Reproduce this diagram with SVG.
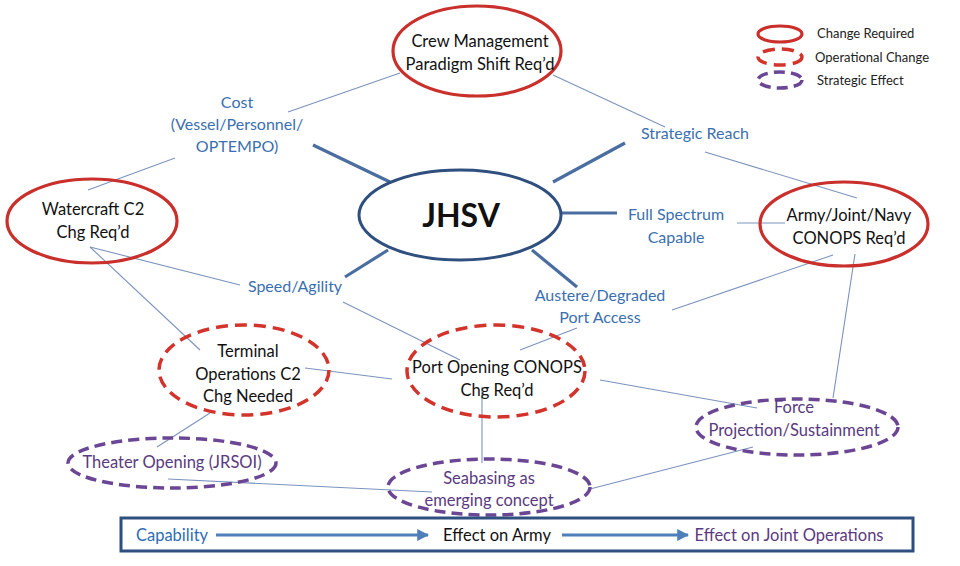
<svg xmlns="http://www.w3.org/2000/svg" width="960" height="566" viewBox="0 0 960 566">
<style>
text{font-family:Lato,"Open Sans","Liberation Sans",sans-serif;text-anchor:middle}
.n{font-size:16.5px;fill:#111}
.lb{font-size:16px;fill:#3b6fb0}
.st{font-size:16.5px;fill:#5a3a80}
.req{fill:none;stroke:#c9302c;stroke-width:3.2}
.op{fill:none;stroke:#d2342c;stroke-width:3.5;stroke-dasharray:12 7}
.se{fill:none;stroke:#6a4694;stroke-width:3.5;stroke-dasharray:11 6}
.thin{stroke:#7b93bd;stroke-width:1.1;fill:none}
.thick{stroke:#4a6ea0;stroke-width:3.2;fill:none}
.leg{font-size:13px;fill:#222;text-anchor:start}
.bar{font-size:16.5px}
</style>
<defs>
<marker id="ah" viewBox="0 0 10 10" refX="9" refY="5" markerWidth="4" markerHeight="4" orient="auto" markerUnits="strokeWidth">
<path d="M0,0 L10,5 L0,10 Z" fill="#4f7fb8"/>
</marker>
</defs>
<rect width="960" height="566" fill="#fff"/>
<g id="connectors">
<line class="thin" x1="400" y1="73" x2="288" y2="112"/>
<line class="thin" x1="175" y1="158" x2="88" y2="190"/>
<line class="thin" x1="553" y1="75" x2="665" y2="127"/>
<line class="thin" x1="705" y1="152" x2="857" y2="198"/>
<line class="thin" x1="737" y1="223" x2="785" y2="223"/>
<line class="thin" x1="90" y1="247" x2="240" y2="285"/>
<line class="thin" x1="90" y1="247" x2="200" y2="350"/>
<line class="thin" x1="343" y1="302" x2="460" y2="360"/>
<line class="thin" x1="672" y1="310" x2="833" y2="255"/>
<line class="thin" x1="520" y1="350" x2="577" y2="328"/>
<line class="thin" x1="305" y1="368" x2="392" y2="379"/>
<line class="thin" x1="210" y1="413" x2="157" y2="447"/>
<line class="thin" x1="482" y1="387" x2="482" y2="463"/>
<line class="thin" x1="600" y1="380" x2="757" y2="408"/>
<line class="thin" x1="855" y1="254" x2="833" y2="398"/>
<line class="thin" x1="753" y1="447" x2="590" y2="489"/>
<line class="thin" x1="168" y1="479" x2="432" y2="492"/>
<line class="thick" x1="313" y1="145" x2="390" y2="182"/>
<line class="thick" x1="553" y1="182" x2="625" y2="143"/>
<line class="thick" x1="562" y1="213" x2="617" y2="213"/>
<line class="thick" x1="388" y1="250" x2="345" y2="277"/>
<line class="thick" x1="532" y1="250" x2="577" y2="287"/>
</g>
<g id="legend">
<ellipse class="req" cx="780" cy="34" rx="22" ry="8" stroke-width="3"/>
<text class="leg" x="817" y="38">Change Required</text>
<ellipse class="op" cx="780" cy="57" rx="22" ry="8" stroke-dasharray="8 5"/>
<text class="leg" x="815" y="62">Operational Change</text>
<ellipse class="se" cx="780" cy="80" rx="22" ry="8" stroke-dasharray="6 4"/>
<text class="leg" x="817" y="85">Strategic Effect</text>
</g>
<g id="crew">
<ellipse class="req" cx="477" cy="51" rx="84" ry="45"/>
<text class="n" x="480" y="47">Crew Management</text>
<text class="n" x="480" y="70">Paradigm Shift Req’d</text>
</g>
<g id="cost">
<text class="lb" x="237" y="108">Cost</text>
<text class="lb" x="237" y="130">(Vessel/Personnel/</text>
<text class="lb" x="237" y="152">OPTEMPO)</text>
</g>
<g id="jhsv">
<ellipse cx="460" cy="215" rx="101" ry="45" fill="none" stroke="#2f4f7f" stroke-width="3"/>
<text x="461" y="227" font-size="32" font-weight="bold" fill="#111">JHSV</text>
</g>
<g id="watercraft">
<ellipse class="req" cx="92" cy="221" rx="85" ry="42"/>
<text class="n" x="93" y="215">Watercraft C2</text>
<text class="n" x="93" y="238">Chg Req’d</text>
</g>
<g id="reach">
<text class="lb" x="695" y="139">Strategic Reach</text>
</g>
<g id="spectrum">
<text class="lb" x="676" y="220">Full Spectrum</text>
<text class="lb" x="676" y="243">Capable</text>
</g>
<g id="army">
<ellipse class="req" cx="844" cy="224" rx="84" ry="42"/>
<text class="n" x="849" y="221">Army/Joint/Navy</text>
<text class="n" x="849" y="244">CONOPS Req’d</text>
</g>
<g id="speed">
<text class="lb" x="295" y="292">Speed/Agility</text>
</g>
<g id="austere">
<text class="lb" x="600" y="301">Austere/Degraded</text>
<text class="lb" x="600" y="323">Port Access</text>
</g>
<g id="terminal">
<ellipse class="op" cx="244" cy="370" rx="85" ry="45"/>
<text class="n" x="248" y="357">Terminal</text>
<text class="n" x="248" y="380">Operations C2</text>
<text class="n" x="248" y="402">Chg Needed</text>
</g>
<g id="port">
<ellipse class="op" cx="496" cy="371" rx="89" ry="46"/>
<text class="n" x="497" y="373">Port Opening CONOPS</text>
<text class="n" x="497" y="396">Chg Req’d</text>
</g>
<g id="force">
<ellipse class="se" cx="797" cy="427" rx="101" ry="28"/>
<text class="st" x="794" y="413">Force</text>
<text class="st" x="794" y="436">Projection/Sustainment</text>
</g>
<g id="theater">
<ellipse class="se" cx="172" cy="463" rx="104" ry="25"/>
<text class="st" x="172" y="468">Theater Opening (JRSOI)</text>
</g>
<g id="seabasing">
<ellipse class="se" cx="489" cy="487" rx="101" ry="28"/>
<text class="st" x="489" y="484">Seabasing as</text>
<text class="st" x="489" y="506">emerging concept</text>
</g>
<g id="flowbar">
<rect x="121" y="518" width="792" height="33" fill="#fff" stroke="#2f4f7f" stroke-width="3"/>
<text class="bar" x="172" y="541" fill="#2e6db5">Capability</text>
<line x1="216" y1="535" x2="428" y2="535" stroke="#4f7fb8" stroke-width="3" marker-end="url(#ah)"/>
<text class="bar" x="497" y="541" fill="#111">Effect on Army</text>
<line x1="562" y1="535" x2="688" y2="535" stroke="#4f7fb8" stroke-width="3" marker-end="url(#ah)"/>
<text class="bar" x="789" y="541" fill="#5b3a80">Effect on Joint Operations</text>
</g>
</svg>
